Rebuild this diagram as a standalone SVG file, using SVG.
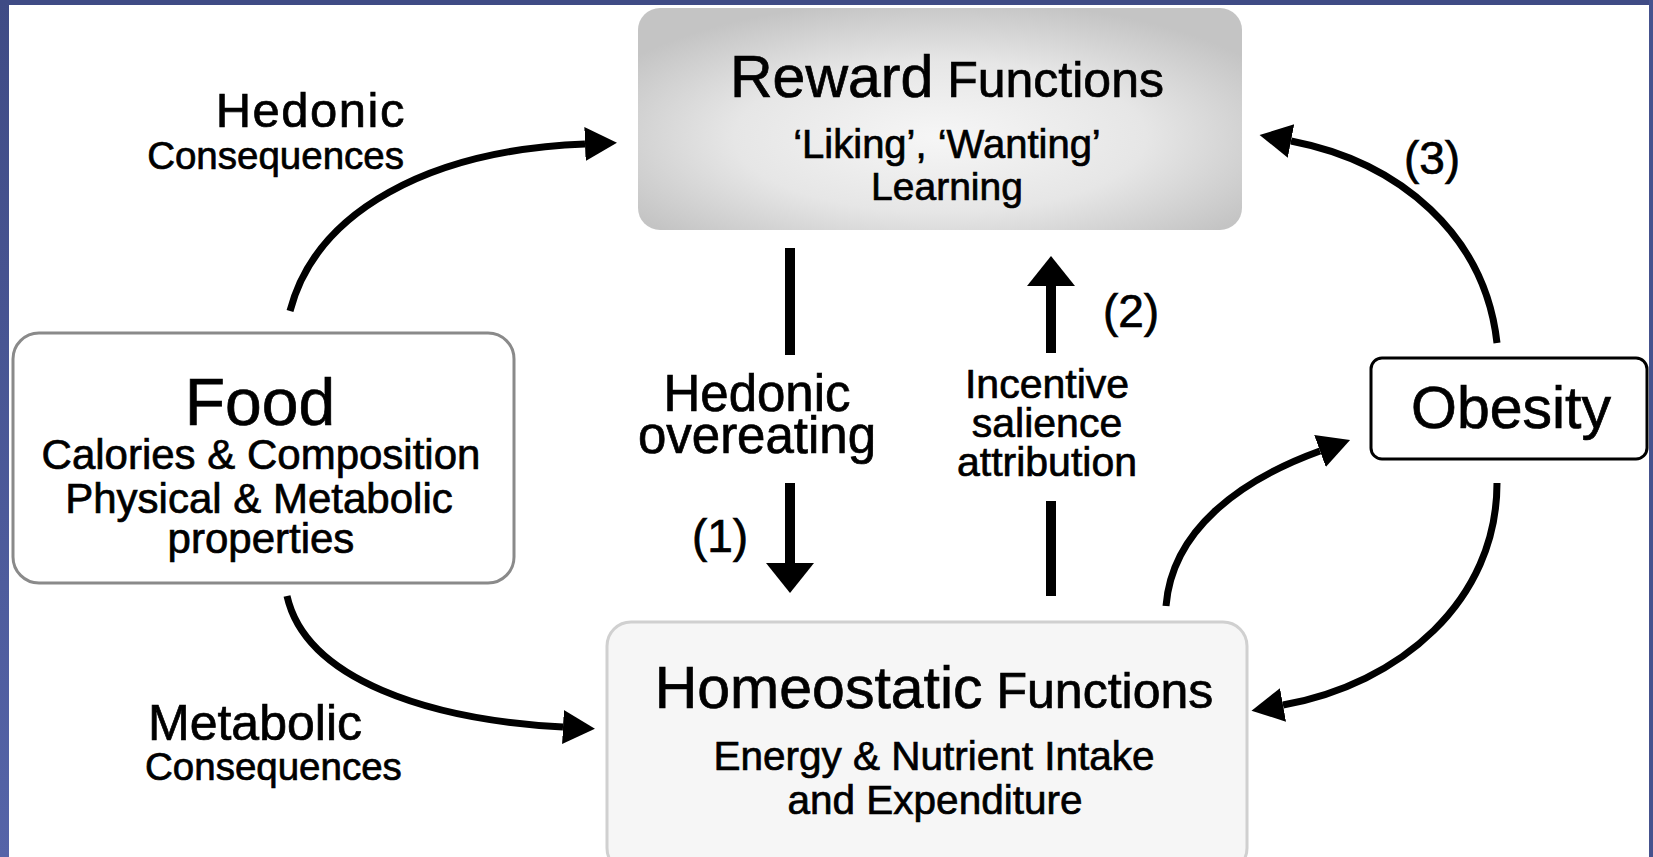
<svg xmlns="http://www.w3.org/2000/svg" width="1653" height="857" viewBox="0 0 1653 857">
<defs>
<style>
text{font-family:"Liberation Sans",Arial,Helvetica,sans-serif;fill:#000;stroke:#000;stroke-width:0.7}
.c{text-anchor:middle}
.conn{fill:none;stroke:#000;stroke-linecap:butt}
.curve{stroke-width:7}
.straight{stroke-width:10}
</style>
<radialGradient id="rg" cx="50%" cy="58%" r="62%">
<stop offset="0" stop-color="#f6f6f6"/>
<stop offset="0.55" stop-color="#e6e6e6"/>
<stop offset="1" stop-color="#c4c4c4"/>
</radialGradient>
<linearGradient id="lb" x1="0" y1="0" x2="0" y2="1">
<stop offset="0" stop-color="#3f4b85"/>
<stop offset="1" stop-color="#5564a8"/>
</linearGradient>
<marker id="ahc" markerUnits="userSpaceOnUse" markerWidth="34" markerHeight="36" refX="0" refY="17" orient="auto">
<path d="M0,0 L32,17 L0,34 z" fill="#000"/>
</marker>
<marker id="ahs" markerUnits="userSpaceOnUse" markerWidth="32" markerHeight="50" refX="0" refY="24" orient="auto">
<path d="M0,0 L30,24 L0,48 z" fill="#000"/>
</marker>
</defs>
<rect x="0" y="0" width="1653" height="857" fill="#fff"/>
<rect x="0" y="0" width="1653" height="5" fill="#3f4b85"/>
<rect x="0" y="0" width="9" height="857" fill="url(#lb)"/>
<rect x="1649" y="0" width="4" height="857" fill="#45528e"/>

<g id="reward">
<rect x="638" y="8" width="604" height="222" rx="22" fill="url(#rg)"/>
<text class="c" x="947" y="97"><tspan font-size="59">Reward</tspan><tspan font-size="50"> Functions</tspan></text>
<text class="c" x="947" y="158" font-size="40">‘Liking’, ‘Wanting’</text>
<text class="c" x="947" y="200" font-size="39">Learning</text>
</g>

<g id="homeostatic">
<rect x="607" y="622" width="640" height="250" rx="24" fill="#f6f6f6" stroke="#d0d0d0" stroke-width="3"/>
<text class="c" x="934" y="708"><tspan font-size="59">Homeostatic</tspan><tspan font-size="50"> Functions</tspan></text>
<text class="c" x="934" y="770" font-size="40.5">Energy &amp; Nutrient Intake</text>
<text class="c" x="935" y="814" font-size="40.5">and Expenditure</text>
</g>

<g id="food">
<rect x="13" y="333" width="501" height="250" rx="26" fill="#fff" stroke="#8a8a8a" stroke-width="3"/>
<text class="c" x="260" y="425" font-size="66">Food</text>
<text class="c" x="261" y="469" font-size="42">Calories &amp; Composition</text>
<text class="c" x="259" y="513" font-size="42">Physical &amp; Metabolic</text>
<text class="c" x="261" y="553" font-size="42">properties</text>
</g>

<g id="obesity">
<rect x="1371" y="358" width="276" height="101" rx="11" fill="#fff" stroke="#000" stroke-width="3"/>
<text class="c" x="1511" y="428" font-size="59">Obesity</text>
</g>

<g id="labels">
<text x="406" y="127" font-size="49" text-anchor="end" letter-spacing="1.5">Hedonic</text>
<text x="404" y="169" font-size="38.5" text-anchor="end">Consequences</text>
<text x="148" y="740" font-size="50">Metabolic</text>
<text x="145" y="780" font-size="38.5">Consequences</text>
<text class="c" x="757" y="411" font-size="51">Hedonic</text>
<text class="c" x="757" y="453" font-size="51">overeating</text>
<text class="c" x="1047" y="398" font-size="41">Incentive</text>
<text class="c" x="1047" y="437" font-size="41">salience</text>
<text class="c" x="1047" y="476" font-size="41">attribution</text>
<text class="c" x="720" y="552" font-size="46">(1)</text>
<text class="c" x="1131" y="327" font-size="46">(2)</text>
<text class="c" x="1432" y="174" font-size="46">(3)</text>
</g>

<g id="connectors">
<path class="conn curve" d="M290,311 C316,211 430,150 585,144" marker-end="url(#ahc)"/>
<path class="conn curve" d="M287,596 C306,680 430,720 563,727" marker-end="url(#ahc)"/>
<path class="conn curve" d="M1497,343 C1485,235 1400,162 1291,141" marker-end="url(#ahc)"/>
<path class="conn curve" d="M1166,606 C1172,530 1240,480 1320,451" marker-end="url(#ahc)"/>
<path class="conn curve" d="M1497,483 C1497,601 1400,684 1283,705" marker-end="url(#ahc)"/>
<line class="conn straight" x1="790" y1="248" x2="790" y2="355"/>
<line class="conn straight" x1="790" y1="483" x2="790" y2="563" marker-end="url(#ahs)"/>
<line class="conn straight" x1="1051" y1="596" x2="1051" y2="501"/>
<line class="conn straight" x1="1051" y1="353" x2="1051" y2="286" marker-end="url(#ahs)"/>
</g>
</svg>
